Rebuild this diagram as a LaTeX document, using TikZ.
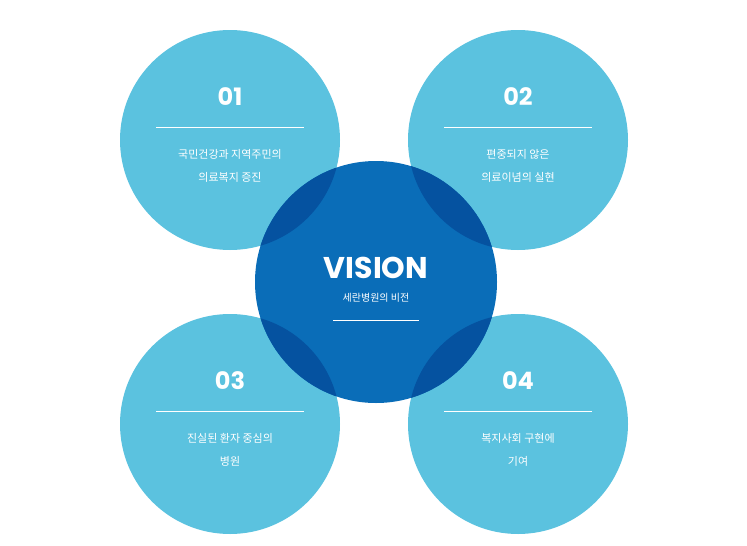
\documentclass[tikz,border=0pt]{standalone}
\usepackage{fontspec}
\setmainfont{Noto Sans CJK KR}
\newfontfamily\numfont{Poppins}
\usetikzlibrary{positioning}
\definecolor{skyblue}{HTML}{5BC2DF}
\definecolor{visionblue}{HTML}{0A6DB8}
\definecolor{overlapblue}{HTML}{0552A0}

\begin{document}
\begin{tikzpicture}
 [ x=1pt, y=-1pt
 , petal/.style={circle, fill=skyblue, minimum size=220pt, inner sep=0pt}
 , num/.style={text=white, font=\numfont\bfseries\fontsize{24}{24}\selectfont}
 , caption/.style={text=white, align=center, font=\fontsize{11}{23}\selectfont}
 , rule/.style={white, line width=0.6pt}
 ]
  \useasboundingbox (0,0) rectangle (747,546);
  % four outer circles
  \foreach \name/\cx/\cy in {one/230/140, two/518/140, three/230/424, four/518/424}
    \node [petal] (\name) at (\cx,\cy) {};
  % centre circle and its overlaps
  \node [circle, fill=visionblue, minimum size=242pt, inner sep=0pt] (vision) at (376,282) {};
  \begin{scope}
    \clip (376,282) circle (121);
    \foreach \cx/\cy in {230/140, 518/140, 230/424, 518/424}
      \fill [overlapblue] (\cx,\cy) circle (110);
  \end{scope}
  % labels
  \foreach \name/\n/\txt in {one/01/{국민건강과 지역주민의\\의료복지 증진},
      two/02/{편중되지 않은\\의료이념의 실현},
      three/03/{진실된 환자 중심의\\병원},
      four/04/{복지사회 구현에\\기여}}
  {
    \node [num] (\name-num) at ([yshift=43pt]\name.center) {\n};
    \draw [rule] ([xshift=-74pt,yshift=13pt]\name.center) -- ([xshift=74pt,yshift=13pt]\name.center);
    \node [caption] (\name-txt) at ([yshift=-26pt]\name.center) {\txt};
  }
  \node [text=white, font=\numfont\bfseries\fontsize{30}{30}\selectfont] (vision-title) at ([yshift=14pt]vision.center) {VISION};
  \node [text=white, font=\fontsize{10}{10}\selectfont] (vision-sub) at ([yshift=-16pt]vision.center) {세란병원의 비전};
  \draw [rule] ([xshift=-43pt,yshift=-38pt]vision.center) -- ([xshift=43pt,yshift=-38pt]vision.center);
\end{tikzpicture}
\end{document}
